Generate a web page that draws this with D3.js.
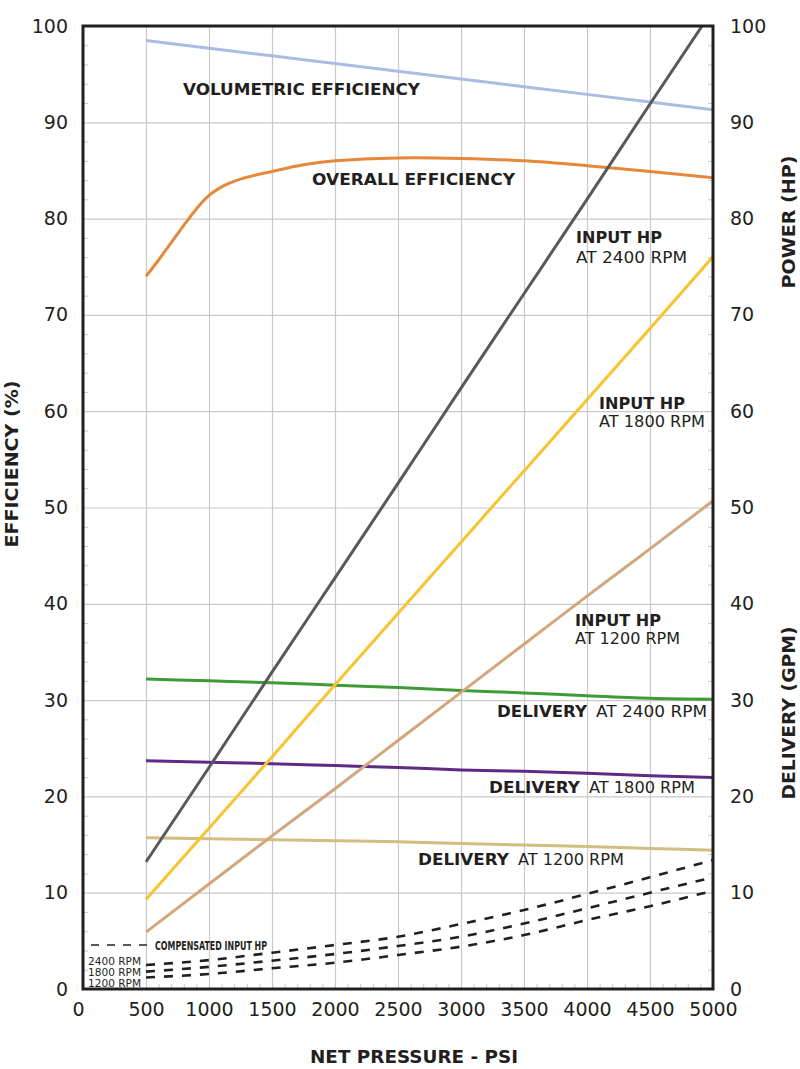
<!DOCTYPE html>
<html>
<head>
<meta charset="utf-8">
<script src="https://cdn.jsdelivr.net/npm/d3@7"></script>
<style>
  body { margin: 0; background: #fff; }
  svg { display: block; }
  text { fill: #231f20; }
</style>
</head>
<body>
<svg id="chart"></svg>
<script>
// values
const pressure = [500, 1000, 1500, 2000, 2500, 3000, 3500, 4000, 4500, 5000];
const xTicks = [0, 500, 1000, 1500, 2000, 2500, 3000, 3500, 4000, 4500, 5000];
const yTicks = [0, 10, 20, 30, 40, 50, 60, 70, 80, 90, 100];

const volumetricEff = [98.5, 97.7, 96.9, 96.1, 95.3, 94.5, 93.7, 92.9, 92.1, 91.3];
const overallPressure = [500, 600, 700, 800, 900, 1000, 1100, 1250, 1500, 1750, 2000, 2500, 3000, 3500, 4000, 4500, 5000];
const overallEff = [74.0, 75.7, 77.5, 79.3, 81.0, 82.4, 83.3, 84.1, 84.9, 85.6, 86.0, 86.3, 86.25, 86.0, 85.5, 84.9, 84.25];

const inputHp2400 = [13.2, 23.0, 32.9, 42.7, 52.5, 62.4, 72.2, 82.0, 91.9, 101.7];
const inputHp1800 = [9.3, 16.7, 24.1, 31.6, 39.0, 46.4, 53.8, 61.2, 68.6, 76.05];
const inputHp1200 = [5.9, 10.9, 15.9, 20.8, 25.8, 30.8, 35.8, 40.8, 45.7, 50.7];

const delivery2400 = [32.2, 32.0, 31.8, 31.55, 31.3, 31.0, 30.75, 30.45, 30.2, 30.1];
const delivery1800 = [23.7, 23.55, 23.4, 23.2, 23.0, 22.75, 22.6, 22.4, 22.15, 21.95];
const delivery1200 = [15.7, 15.6, 15.5, 15.4, 15.3, 15.1, 14.95, 14.8, 14.6, 14.4];

const compHp2400 = [2.5, 3.0, 3.77, 4.57, 5.43, 6.75, 8.2, 9.87, 11.6, 13.4];
const compHp1800 = [1.8, 2.3, 2.94, 3.63, 4.47, 5.43, 6.8, 8.38, 10.0, 11.6];
const compHp1200 = [1.2, 1.56, 2.15, 2.73, 3.53, 4.4, 5.6, 7.16, 8.6, 10.2];

const rpmLabels = ["2400 RPM", "1800 RPM", "1200 RPM"];

const width = 800, height = 1069;
const margin = {top: 26, right: 87, bottom: 80, left: 83};
const innerW = width - margin.left - margin.right;
const innerH = height - margin.top - margin.bottom;

const svg = d3.select("#chart")
    .attr("width", width)
    .attr("height", height);

const x = d3.scaleLinear().domain([0, 5000]).range([margin.left, margin.left + innerW]);
const y = d3.scaleLinear().domain([0, 100]).range([margin.top + innerH, margin.top]);

svg.append("clipPath")
        .attr("id", "plot-clip")
    .append("rect")
        .attr("x", margin.left)
        .attr("y", margin.top)
        .attr("width", innerW)
        .attr("height", innerH);

// grid
svg.append("g")
    .attr("transform", `translate(0,${margin.top + innerH})`)
    .call(d3.axisBottom(x).tickValues(xTicks.slice(1, -1)).tickSize(-innerH).tickFormat(""))
    .call(g => g.select(".domain").remove())
    .call(g => g.selectAll("line").attr("stroke", "#c9c9c9").attr("stroke-width", 1.2));

svg.append("g")
    .attr("transform", `translate(${margin.left},0)`)
    .call(d3.axisLeft(y).tickValues(yTicks.slice(1, -1)).tickSize(-innerW).tickFormat(""))
    .call(g => g.select(".domain").remove())
    .call(g => g.selectAll("line").attr("stroke", "#c9c9c9").attr("stroke-width", 1.2));

// small inner ticks
const minorY = d3.range(2, 100, 2).filter(v => v % 10 !== 0);
const minorX = d3.range(100, 5000, 100).filter(v => v % 500 !== 0);

svg.append("g")
    .attr("transform", `translate(${margin.left},0)`)
    .call(d3.axisLeft(y).tickValues(minorY).tickSize(-5).tickFormat(""))
    .call(g => g.select(".domain").remove())
    .call(g => g.selectAll("line").attr("stroke", "#c9c9c9"));

svg.append("g")
    .attr("transform", `translate(${margin.left + innerW},0)`)
    .call(d3.axisRight(y).tickValues(minorY).tickSize(-5).tickFormat(""))
    .call(g => g.select(".domain").remove())
    .call(g => g.selectAll("line").attr("stroke", "#c9c9c9"));

svg.append("g")
    .attr("transform", `translate(0,${margin.top + innerH})`)
    .call(d3.axisBottom(x).tickValues(minorX).tickSize(-5).tickFormat(""))
    .call(g => g.select(".domain").remove())
    .call(g => g.selectAll("line").attr("stroke", "#c9c9c9"));

// tick labels
function styleTickText(g) {
    g.select(".domain").remove();
    g.attr("font-family", "DejaVu Sans").attr("font-size", 19);
    g.selectAll("text").attr("fill", "#231f20");
}

svg.append("g")
    .attr("transform", `translate(${margin.left},0)`)
    .call(d3.axisLeft(y).tickValues(yTicks).tickSize(0).tickPadding(15).tickFormat(d3.format("d")))
    .call(styleTickText);

svg.append("g")
    .attr("transform", `translate(${margin.left + innerW},0)`)
    .call(d3.axisRight(y).tickValues(yTicks).tickSize(0).tickPadding(17).tickFormat(d3.format("d")))
    .call(styleTickText);

svg.append("g")
    .attr("transform", `translate(0,${margin.top + innerH})`)
    .call(d3.axisBottom(x).tickValues(xTicks).tickSize(0).tickPadding(14).tickFormat(d3.format("d")))
    .call(styleTickText)
    .call(g => g.selectAll("text").filter(d => d === 0).attr("dx", -5));

// series
const line = (xs, ys, curve) => d3.line()
    .x((d, i) => x(xs[i]))
    .y(d => y(d))
    .curve(curve || d3.curveMonotoneX)(ys);

const series = [
    {xs: pressure, ys: volumetricEff, color: "#a8bde1"},
    {xs: overallPressure, ys: overallEff, color: "#e5883a", curve: d3.curveCatmullRom.alpha(0.5)},
    {xs: pressure, ys: delivery1200, color: "#d4bd80"},
    {xs: pressure, ys: delivery1800, color: "#5f2a85"},
    {xs: pressure, ys: delivery2400, color: "#3e9b36"},
    {xs: pressure, ys: inputHp1200, color: "#d3a67d"},
    {xs: pressure, ys: inputHp1800, color: "#f8c331"},
    {xs: pressure, ys: inputHp2400, color: "#58595b"}
];

const plot = svg.append("g").attr("clip-path", "url(#plot-clip)");

plot.selectAll(".series")
    .data(series)
    .enter()
    .append("path")
        .classed("series", true)
        .attr("d", s => line(s.xs, s.ys, s.curve))
        .attr("fill", "none")
        .attr("stroke", s => s.color)
        .attr("stroke-width", 3);

plot.selectAll(".comp")
    .data([compHp2400, compHp1800, compHp1200])
    .enter()
    .append("path")
        .classed("comp", true)
        .attr("d", ys => line(pressure, ys))
        .attr("fill", "none")
        .attr("stroke", "#231f20")
        .attr("stroke-width", 2.6)
        .attr("stroke-dasharray", "9 9");

// frame
svg.append("rect")
    .attr("x", margin.left)
    .attr("y", margin.top)
    .attr("width", innerW)
    .attr("height", innerH)
    .attr("fill", "none")
    .attr("stroke", "#231f20")
    .attr("stroke-width", 3);

// curve labels: [text, x, baseline, width, bold]
const labels = [
    ["VOLUMETRIC EFFICIENCY", 183, 95, 237, true],
    ["OVERALL EFFICIENCY", 312, 185, 203, true],
    ["INPUT HP", 576, 243, 86, true],
    ["AT 2400 RPM", 576, 263, 111, false],
    ["INPUT HP", 599, 409, 86, true],
    ["AT 1800 RPM", 599, 427, 106, false],
    ["INPUT HP", 575, 625.5, 86, true],
    ["AT 1200 RPM", 575, 644, 105, false],
    ["DELIVERY", 497, 717, 90, true],
    ["AT 2400 RPM", 596, 717, 111, false],
    ["DELIVERY", 489, 793, 91, true],
    ["AT 1800 RPM", 589, 793, 106, false],
    ["DELIVERY", 418, 865, 91, true],
    ["AT 1200 RPM", 518, 865, 106, false]
];

svg.selectAll(".curve-label")
    .data(labels)
    .enter()
    .append("text")
        .classed("curve-label", true)
        .attr("x", d => d[1])
        .attr("y", d => d[2])
        .attr("textLength", d => d[3])
        .attr("lengthAdjust", "spacingAndGlyphs")
        .attr("font-family", "DejaVu Sans")
        .attr("font-size", 16)
        .attr("font-weight", d => d[4] ? "bold" : "normal")
        .text(d => d[0]);

// compensated input hp legend
svg.append("line")
    .attr("x1", 91).attr("x2", 149)
    .attr("y1", 945).attr("y2", 945)
    .attr("stroke", "#231f20")
    .attr("stroke-width", 1.6)
    .attr("stroke-dasharray", "8 8");

svg.append("text")
    .attr("x", 155)
    .attr("y", 949.5)
    .attr("textLength", 112)
    .attr("lengthAdjust", "spacingAndGlyphs")
    .attr("font-family", "DejaVu Sans Condensed, DejaVu Sans")
    .attr("font-size", 11.5)
    .attr("font-weight", "bold")
    .text("COMPENSATED INPUT HP");

svg.selectAll(".rpm-label")
    .data(rpmLabels)
    .enter()
    .append("text")
        .classed("rpm-label", true)
        .attr("x", 88)
        .attr("y", (d, i) => 965 + i * 11.2)
        .attr("textLength", 53)
        .attr("lengthAdjust", "spacingAndGlyphs")
        .attr("font-family", "DejaVu Sans")
        .attr("font-size", 11)
        .text(d => d);

// axis titles
function axisTitle(text, tx, ty, len, rotate) {
    svg.append("text")
        .attr("transform", `translate(${tx},${ty})` + (rotate ? " rotate(-90)" : ""))
        .attr("text-anchor", "middle")
        .attr("textLength", len)
        .attr("lengthAdjust", "spacingAndGlyphs")
        .attr("font-family", "DejaVu Sans")
        .attr("font-size", 18)
        .attr("font-weight", "bold")
        .text(text);
}

axisTitle("EFFICIENCY (%)", 18, 464, 167, true);
axisTitle("POWER (HP)", 795, 222, 133, true);
axisTitle("DELIVERY (GPM)", 795, 713, 173, true);
axisTitle("NET PRESSURE - PSI", 414, 1063, 208, false);
</script>
</body>
</html>
